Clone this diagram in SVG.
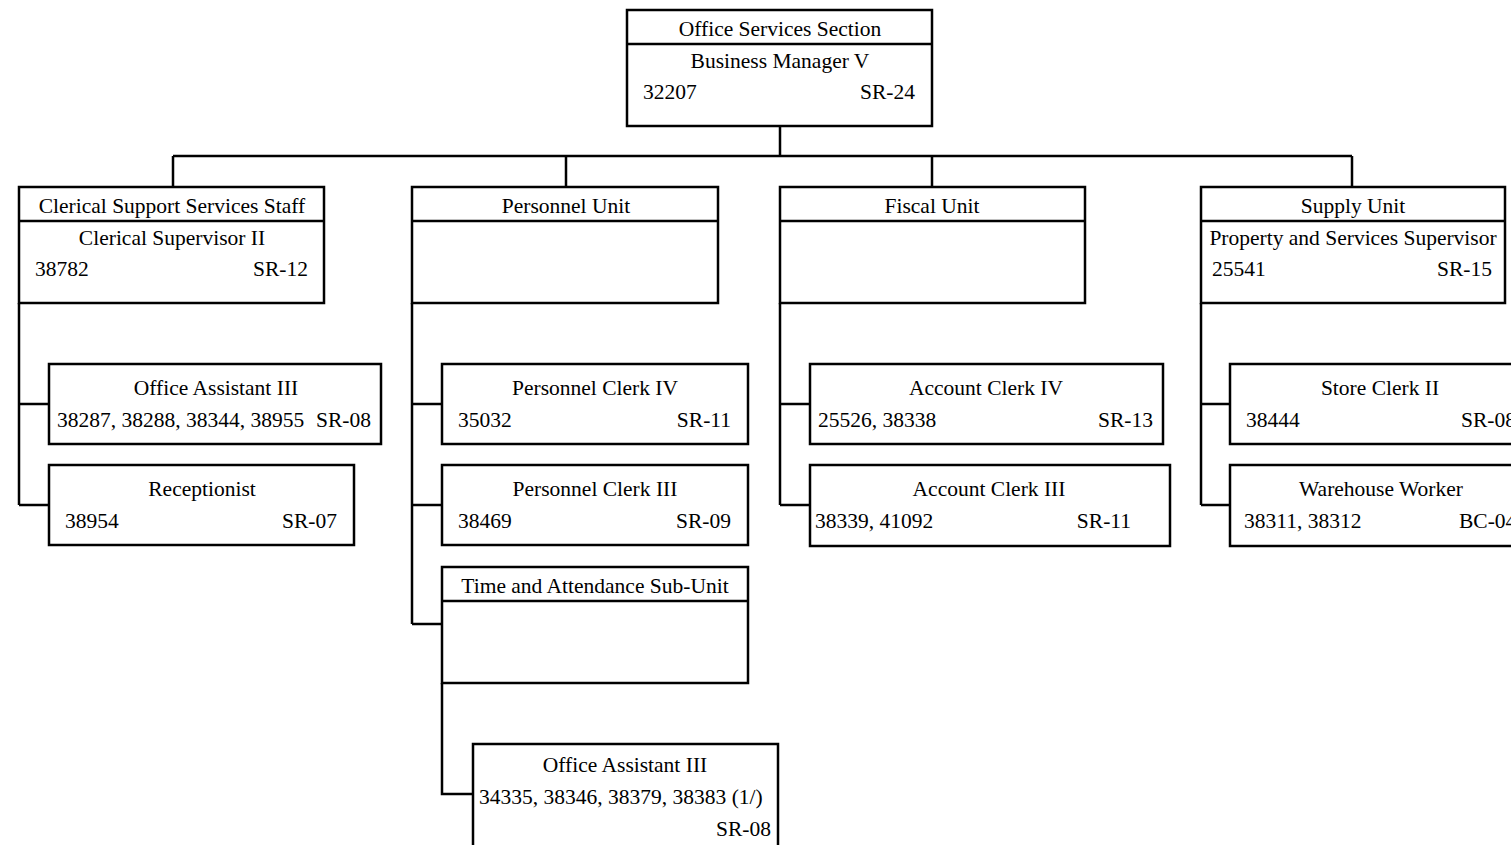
<svg xmlns="http://www.w3.org/2000/svg" width="1511" height="845" viewBox="0 0 1511 845">
<style>
.b{fill:#fff;stroke:#000;stroke-width:2.5}
.d{stroke:#000;stroke-width:2.5;fill:none}
.c{stroke:#000;stroke-width:2.5;fill:none}
text{font-family:"Liberation Serif","Times New Roman",serif;font-size:21.5px;fill:#000}
.m{text-anchor:middle}
.e{text-anchor:end}
</style>
<rect width="1511" height="845" fill="#fff"/>
<g id="connectors">
<path class="c" d="M780 126V156M173 156H1352M173 156V187M566 156V187M932 156V187M1352 156V187"/>
<path class="c" d="M19 303V505M19 404H49M19 505H49"/>
<path class="c" d="M412 303V624M412 404H442M412 505H442M412 624H442"/>
<path class="c" d="M442 683V794H473"/>
<path class="c" d="M780 303V505M780 404H810M780 505H810"/>
<path class="c" d="M1201 303V505M1201 404H1230M1201 505H1230"/>
</g>
<g id="office-services">
<rect class="b" x="627" y="10" width="305" height="116"/>
<path class="d" d="M627 44H932"/>
<text class="m" x="780" y="36">Office Services Section</text>
<text class="m" x="780" y="68">Business Manager V</text>
<text x="643" y="99">32207</text>
<text class="e" x="915" y="99">SR-24</text>
</g>
<g id="clerical">
<rect class="b" x="19" y="187" width="305" height="116"/>
<path class="d" d="M19 221H324"/>
<text class="m" x="172" y="213">Clerical Support Services Staff</text>
<text class="m" x="172" y="245">Clerical Supervisor II</text>
<text x="35" y="276">38782</text>
<text class="e" x="308" y="276">SR-12</text>
</g>
<g id="personnel">
<rect class="b" x="412" y="187" width="306" height="116"/>
<path class="d" d="M412 221H718"/>
<text class="m" x="566" y="213">Personnel Unit</text>
</g>
<g id="fiscal">
<rect class="b" x="780" y="187" width="305" height="116"/>
<path class="d" d="M780 221H1085"/>
<text class="m" x="932" y="213">Fiscal Unit</text>
</g>
<g id="supply">
<rect class="b" x="1201" y="187" width="304" height="116"/>
<path class="d" d="M1201 221H1505"/>
<text class="m" x="1353" y="213">Supply Unit</text>
<text class="m" x="1353" y="245">Property and Services Supervisor</text>
<text x="1212" y="276">25541</text>
<text class="e" x="1492" y="276">SR-15</text>
</g>
<g id="office-assistant-1">
<rect class="b" x="49" y="364" width="332" height="80"/>
<text class="m" x="216" y="395">Office Assistant III</text>
<text x="57" y="427">38287, 38288, 38344, 38955</text>
<text class="e" x="371" y="427">SR-08</text>
</g>
<g id="receptionist">
<rect class="b" x="49" y="465" width="305" height="80"/>
<text class="m" x="202" y="496">Receptionist</text>
<text x="65" y="528">38954</text>
<text class="e" x="337" y="528">SR-07</text>
</g>
<g id="personnel-clerk-4">
<rect class="b" x="442" y="364" width="306" height="80"/>
<text class="m" x="595" y="395">Personnel Clerk IV</text>
<text x="458" y="427">35032</text>
<text class="e" x="731" y="427">SR-11</text>
</g>
<g id="personnel-clerk-3">
<rect class="b" x="442" y="465" width="306" height="80"/>
<text class="m" x="595" y="496">Personnel Clerk III</text>
<text x="458" y="528">38469</text>
<text class="e" x="731" y="528">SR-09</text>
</g>
<g id="time-attendance">
<rect class="b" x="442" y="567" width="306" height="116"/>
<path class="d" d="M442 601H748"/>
<text class="m" x="595" y="593">Time and Attendance Sub-Unit</text>
</g>
<g id="office-assistant-2">
<rect class="b" x="473" y="744" width="305" height="104"/>
<text class="m" x="625" y="772">Office Assistant III</text>
<text x="479" y="804">34335, 38346, 38379, 38383 (1/)</text>
<text class="e" x="771" y="836">SR-08</text>
</g>
<g id="account-clerk-4">
<rect class="b" x="810" y="364" width="353" height="80"/>
<text class="m" x="986" y="395">Account Clerk IV</text>
<text x="818" y="427">25526, 38338</text>
<text class="e" x="1153" y="427">SR-13</text>
</g>
<g id="account-clerk-3">
<rect class="b" x="810" y="465" width="360" height="81"/>
<text class="m" x="989" y="496">Account Clerk III</text>
<text x="815" y="528">38339, 41092</text>
<text class="e" x="1131" y="528">SR-11</text>
</g>
<g id="store-clerk">
<rect class="b" x="1230" y="364" width="300" height="80"/>
<text class="m" x="1380" y="395">Store Clerk II</text>
<text x="1246" y="427">38444</text>
<text x="1461" y="427">SR-08</text>
</g>
<g id="warehouse-worker">
<rect class="b" x="1230" y="465" width="300" height="81"/>
<text class="m" x="1381" y="496">Warehouse Worker</text>
<text x="1244" y="528">38311, 38312</text>
<text x="1459" y="528">BC-04</text>
</g>
</svg>
